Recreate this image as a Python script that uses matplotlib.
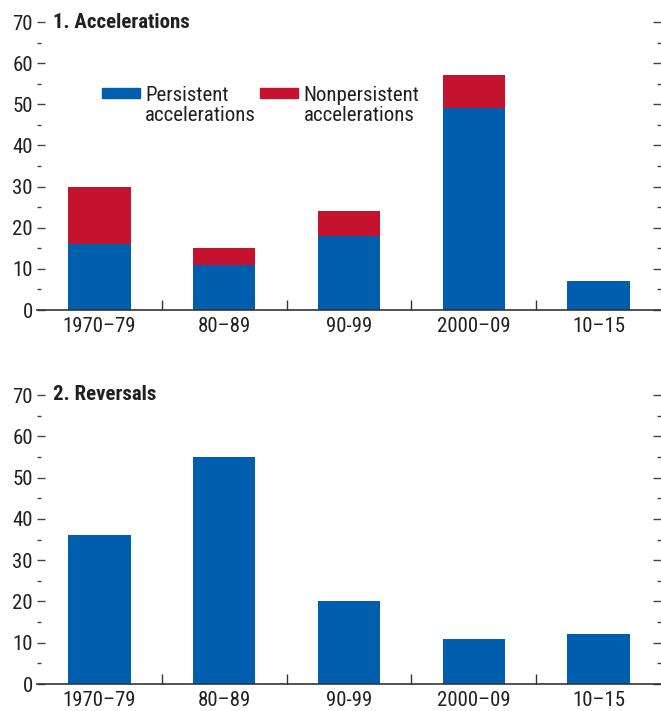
import matplotlib
matplotlib.use('Agg')
import matplotlib.pyplot as plt
from matplotlib.patches import Rectangle
from matplotlib.ticker import MultipleLocator, FixedLocator
import numpy as np

plt.rcParams['font.family'] = ['Roboto Condensed', 'DejaVu Sans']

BLUE = '#005EAE'
RED = '#C4122F'
TXT = '#231F20'
FS = 15

periods = ['1970–79', '80–89', '90-99', '2000–09', '10–15']
persistent = [16, 11, 18, 49, 7]
nonpersistent = [14, 4, 6, 8, 0]
reversals = [36, 55, 20, 11, 12]

fig = plt.figure(figsize=(6.61, 7.11), dpi=100)
ax1 = fig.add_axes([37/661, 1 - 310/711, 624/661, 288/711])
ax2 = fig.add_axes([37/661, 1 - 684/711, 624/661, 289/711])


def style(ax, title):
    x = np.arange(len(periods))
    ax.set_xlim(-0.5, len(periods) - 0.5)
    ax.set_ylim(0, 70)
    for s in ['top', 'left', 'right']:
        ax.spines[s].set_visible(False)
    ax.spines['bottom'].set_color('#333333')
    ax.spines['bottom'].set_linewidth(1.2)
    ax.set_xticks(x)
    ax.set_xticklabels(periods)
    ax.xaxis.set_minor_locator(FixedLocator(x[:-1] + 0.5))
    ax.tick_params(axis='x', which='major', length=0, pad=5, labelsize=FS, labelcolor=TXT)
    ax.tick_params(axis='x', which='minor', length=7, direction='in', color='#333333', width=1)
    ax.yaxis.set_major_locator(MultipleLocator(10))
    ax.yaxis.set_minor_locator(MultipleLocator(5))
    ax.tick_params(axis='y', which='both', direction='in', left=True, right=True,
                   color='#444444', width=1, labelsize=FS, labelcolor=TXT, pad=3)
    ax.tick_params(axis='y', which='major', length=6)
    ax.tick_params(axis='y', which='minor', length=3)
    ax.text(0.026, 1.0, title, transform=ax.transAxes, fontsize=FS,
            fontweight='bold', va='center', ha='left', color=TXT)


# Panel 1: accelerations
x = np.arange(len(periods))
ax1.bar(x, persistent, 0.5, color=BLUE, zorder=2)
ax1.bar(x, nonpersistent, 0.5, bottom=persistent, color=RED, zorder=2)
style(ax1, '1. Accelerations')

# legend drawn by hand
for xp, col, lab in [(0.104, BLUE, 'Persistent\naccelerations'),
                     (0.358, RED, 'Nonpersistent\naccelerations')]:
    ax1.add_patch(Rectangle((xp, 0.736), 0.061, 0.035, transform=ax1.transAxes,
                            color=col, clip_on=False))
    ax1.text(xp + 0.069, 0.778, lab, transform=ax1.transAxes, fontsize=FS,
             va='top', ha='left', linespacing=1.1, color=TXT)

# Panel 2: reversals
ax2.bar(x, reversals, 0.5, color=BLUE, zorder=2)
style(ax2, '2. Reversals')

fig.savefig('out.png', dpi=100, facecolor='white')
